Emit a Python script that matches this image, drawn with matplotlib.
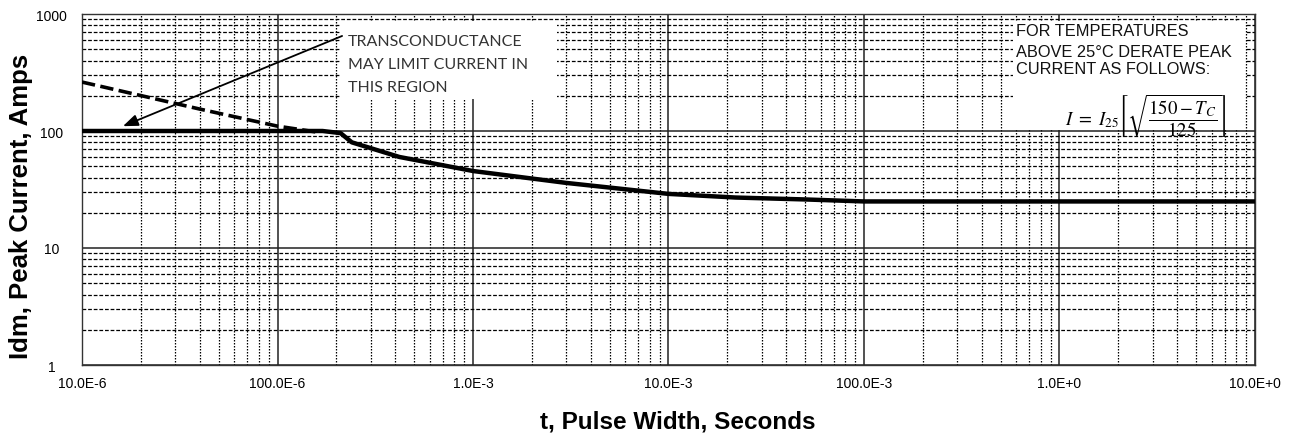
import numpy as np
import matplotlib
matplotlib.use("Agg")
import matplotlib.pyplot as plt
from matplotlib.ticker import FixedLocator, LogLocator, NullFormatter, FixedFormatter
from matplotlib.patches import Rectangle

plt.rcParams["font.family"] = ["Liberation Sans", "DejaVu Sans"]
plt.rcParams["mathtext.fontset"] = "stix"

# Maximum peak current vs pulse width (solid) and transconductance limit (dashed)
pulse_width_s = [1e-5, 1.7e-4, 2.1e-4, 2.4e-4, 4.2e-4, 1e-3, 3e-3, 1e-2, 2.2e-2, 5e-2, 1e-1, 10.0]
peak_current_a = [100, 100, 96, 80, 60, 45.5, 36, 29, 27, 26, 25, 25]

gm_width_s = [1e-5, 4e-5, 1e-4, 1.65e-4]
gm_current_a = [262, 154, 110, 97]

x_ticks = [1e-5, 1e-4, 1e-3, 1e-2, 1e-1, 1.0, 10.0]
x_tick_labels = ["10.0E-6", "100.0E-6", "1.0E-3", "10.0E-3", "100.0E-3", "1.0E+0", "10.0E+0"]
y_ticks = [1, 10, 100, 1000]
y_tick_labels = ["1", "10", "100", "1000"]

W, H = 1305, 439
fig = plt.figure(figsize=(W / 100, H / 100), dpi=100)
L, R, T, B = 82, 1255, 15, 366
ax = fig.add_axes([L / W, 1 - B / H, (R - L) / W, (B - T) / H])

ax.set_xscale("log")
ax.set_yscale("log")
ax.set_xlim(1e-5, 10)
ax.set_ylim(1, 1000)

ax.xaxis.set_major_locator(FixedLocator(x_ticks))
ax.xaxis.set_major_formatter(FixedFormatter(x_tick_labels))
ax.xaxis.set_minor_locator(LogLocator(base=10, subs=np.arange(2, 10)))
ax.xaxis.set_minor_formatter(NullFormatter())
ax.yaxis.set_major_locator(FixedLocator(y_ticks))
ax.yaxis.set_major_formatter(FixedFormatter(y_tick_labels))
ax.yaxis.set_minor_locator(LogLocator(base=10, subs=np.arange(2, 10)))
ax.yaxis.set_minor_formatter(NullFormatter())

ax.tick_params(which="both", length=0)
ax.tick_params(axis="x", which="major", labelsize=10, pad=8)
ax.tick_params(axis="y", which="major", labelsize=10, pad=22)
for lbl in ax.get_yticklabels():
    lbl.set_horizontalalignment("center")

ax.set_axisbelow(True)
ax.xaxis.grid(True, which="major", color="#222222", lw=1.1, ls="-")
ax.yaxis.grid(True, which="major", color="#222222", lw=1.1, ls="-")
ax.xaxis.grid(True, which="minor", color="black", lw=0.9, ls=(0, (1.2, 1.2)))
ax.yaxis.grid(True, which="minor", color="black", lw=0.9, ls=(0, (3, 1.5)))

for s in ax.spines.values():
    s.set_color("#333333")
    s.set_linewidth(1.0)

# White note panels sitting over the grid
ax.add_patch(Rectangle((2.09e-4, 188), 2.69e-3 - 2.09e-4, 870 - 188,
                       facecolor="white", edgecolor="none", zorder=1))
ax.add_patch(Rectangle((0.578, 101), 8.9 - 0.578, 870 - 101,
                       facecolor="white", edgecolor="none", zorder=1))

ax.plot(pulse_width_s, peak_current_a, color="black", lw=3.2, solid_capstyle="butt", zorder=3)
ax.plot(gm_width_s, gm_current_a, color="black", lw=2.6, dashes=[3.7, 1.5], zorder=3)

ax.annotate("", xy=(1.62e-5, 110), xytext=(2.14e-4, 649),
            arrowprops=dict(arrowstyle="-|>,head_length=0.9,head_width=0.35",
                            color="black", lw=1.3, shrinkA=0, shrinkB=0),
            zorder=4)


def px(x, y):
    return x / W, 1 - y / H


note_left = ["TRANSCONDUCTANCE", "MAY LIMIT CURRENT IN", "THIS REGION"]
for i, line in enumerate(note_left):
    fig.text(*px(348, 46 + 23 * i), line, fontsize=11.5, family=["Lato", "DejaVu Sans"],
             color="#333333", ha="left", va="baseline", zorder=5)

note_right = ["FOR TEMPERATURES", "ABOVE 25\u00b0C DERATE PEAK", "CURRENT AS FOLLOWS:"]
for y, line in zip([36, 57, 74], note_right):
    fig.text(*px(1016, y), line, fontsize=11.8, color="#111111",
             ha="left", va="baseline", zorder=5)

fig.text(*px(1146, 116), r"$I\ =\ I_{25}\left[\sqrt{\dfrac{150-T_C}{125}}\right]$",
         fontsize=13.5, ha="center", va="center", zorder=5)

ax.set_xlabel("t, Pulse Width, Seconds", fontsize=17.5, fontweight="bold", va="center")
ax.xaxis.set_label_coords((678 - L) / (R - L), (B - 422) / (B - T))
ax.set_ylabel("Idm, Peak Current, Amps", fontsize=18.5, fontweight="bold", va="center")
ax.yaxis.set_label_coords((21 - L) / (R - L), (B - 206) / (B - T))

fig.savefig("out.png", dpi=100, facecolor="white")
